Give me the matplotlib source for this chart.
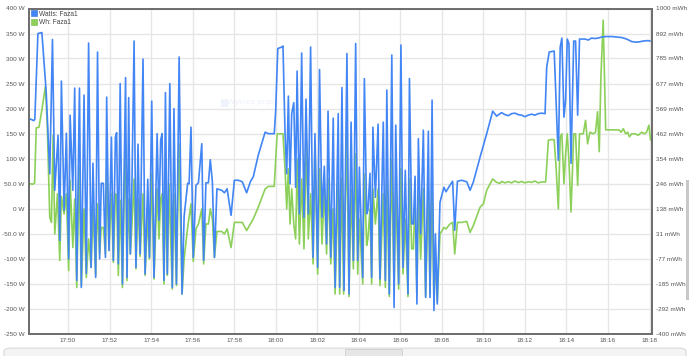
import matplotlib
matplotlib.use('Agg')
from matplotlib import pyplot as plt
from matplotlib.patches import Patch, FancyBboxPatch, Rectangle
from matplotlib.ticker import FuncFormatter

# time in minutes after 17:48
blue_t = [0.07, 0.25, 0.35, 0.40, 0.55, 0.74, 0.95, 1.12, 1.25, 1.36, 1.52, 1.60,
          1.68, 1.81, 1.92, 2.03, 2.10, 2.23, 2.32, 2.42, 2.55, 2.64, 2.77, 2.88,
          2.99, 3.11, 3.20, 3.33, 3.42, 3.52, 3.60, 3.70, 3.80, 3.86, 3.97, 4.09,
          4.18, 4.28, 4.34, 4.42, 4.51, 4.62, 4.77, 4.84, 4.92, 5.00, 5.08, 5.18,
          5.27, 5.37, 5.47, 5.61, 5.71, 5.84, 5.92, 6.03, 6.14, 6.29, 6.38, 6.46,
          6.53, 6.62, 6.69, 6.78, 6.90, 7.02, 7.10, 7.22, 7.35, 7.49, 7.59, 7.76,
          7.83, 7.92, 8.03, 8.16, 8.28, 8.44, 8.53, 8.64, 8.76, 8.85, 8.95, 9.05,
          9.17, 9.40, 9.53, 9.66, 9.85, 10.01, 10.20, 10.39, 10.60, 10.78, 10.92,
          11.16, 11.49, 11.65, 11.93, 12.00, 12.10, 12.29, 12.35, 12.45, 12.53,
          12.61, 12.69, 12.77, 12.87, 12.96, 13.03, 13.14, 13.25, 13.36, 13.46,
          13.57, 13.68, 13.80, 13.89, 14.02, 14.11, 14.23, 14.34, 14.45, 14.52,
          14.65, 14.77, 14.86, 15.01, 15.08, 15.19, 15.29, 15.43, 15.53, 15.63,
          15.74, 15.85, 15.95, 16.03, 16.19, 16.27, 16.38, 16.44, 16.54, 16.62,
          16.68, 16.80, 16.93, 17.02, 17.18, 17.28, 17.35, 17.47, 17.59, 17.70,
          17.78, 17.92, 18.03, 18.13, 18.24, 18.37, 18.44, 18.55, 18.63, 18.71,
          18.80, 18.87, 18.98, 19.11, 19.22, 19.35, 19.43, 19.53, 19.62, 19.69,
          19.78, 19.91, 20.10, 20.20, 20.39, 20.52, 20.62, 20.75, 20.95, 21.20,
          21.36, 21.52, 21.84, 22.16, 22.45, 22.64, 22.80, 22.88, 23.04, 23.20,
          23.36, 23.52, 23.68, 23.84, 24.00, 24.16, 24.32, 24.48, 24.64, 24.80,
          24.97, 25.05, 25.17, 25.41, 25.48, 25.61, 25.70, 25.78, 25.88, 25.96,
          26.04, 26.12, 26.22, 26.35, 26.44, 26.54, 26.63, 26.89, 27.05, 27.21,
          27.37, 27.53, 27.69, 27.90, 28.18, 28.40, 28.66, 28.90, 29.14, 29.30,
          29.46, 29.70, 29.94, 30.02]
watts = [181, 178, 176, 179, 350, 352, 232, 70, 338, 37, 147, -63,
         255, -3, 151, -100, 187, 37, 241, -143, 241, -157, 227, -129,
         331, -117, 91, -137, 313, -100, 51, 51, -97, 223, -83, 143,
         -103, 143, 152, -110, 250, -150, 262, -137, 222, -90, 57, 335,
         -117, 129, -90, 299, -130, 59, -97, 215, -137, 150, -23, 137,
         150, -143, 232, -130, 250, -157, 200, -150, 303, -170, -15, 51,
         50, 163, -97, 47, 52, 130, -103, 52, 52, 98, 54, -97,
         40, 37, 32, 40, -13, 57, 57, 54, 32, 54, 64,
         107, 153, 150, 150, 197, 320, 323, 325, 150, 70,
         225, 50, 190, 212, 43, 275, -10, 311, -17, 219,
         -10, 323, -97, 150, -117, 278, -17, 85, -70, 195,
         -97, 181, -157, 190, -157, 242, -163, 310, -170, 173,
         -103, 330, -103, 83, -137, 260, -10, -3, 71, -137,
         163, 23, 169, -140, 173, -143, 237, -170, 307, -197,
         167, -150, 327, -117, 77, -170, 260, -30, -30, 65,
         -190, 140, -50, 157, -177, 155, -177, 217, -203, -50,
         -190, 13, 43, 34, 47, 55, -43, 55, 57, 54,
         37, 54, 103, 150, 195, 185, 190, 192, 188, 186,
         190, 191, 188, 187, 184, 187, 189, 187, 190, 191,
         190, 283, 313, 315, 237, 97, 323, 341, 183, 217,
         339, 330, 91, 335, 335, 187, 339, 339, 337, 341,
         340, 341, 343, 344, 344, 343, 342, 339, 334, 333,
         333, 335, 336, 335]

green_t = [0.07, 0.30, 0.39, 0.47, 0.60, 0.75, 0.91, 1.00, 1.12, 1.20, 1.28, 1.36,
           1.49, 1.60, 1.68, 1.81, 1.92, 2.03, 2.10, 2.23, 2.32, 2.42, 2.53, 2.64,
           2.77, 2.88, 2.99, 3.11, 3.20, 3.33, 3.41, 3.52, 3.60, 3.70, 3.80, 3.86,
           3.97, 4.09, 4.18, 4.28, 4.34, 4.42, 4.52, 4.62, 4.76, 4.84, 4.89, 5.00,
           5.08, 5.18, 5.27, 5.37, 5.47, 5.61, 5.71, 5.84, 5.92, 6.03, 6.14, 6.29,
           6.38, 6.46, 6.53, 6.62, 6.69, 6.78, 6.86, 7.02, 7.10, 7.22, 7.34, 7.49,
           7.59, 7.75, 7.92, 8.03, 8.16, 8.28, 8.44, 8.53, 8.64, 8.76, 8.85, 8.95,
           9.05, 9.17, 9.40, 9.53, 9.66, 9.85, 10.01, 10.20, 10.39, 10.60, 10.78,
           10.92, 11.16, 11.49, 11.65, 11.93, 12.00, 12.07, 12.35, 12.45, 12.53,
           12.61, 12.69, 12.77, 12.87, 12.96, 13.04, 13.14, 13.25, 13.36, 13.48,
           13.57, 13.68, 13.80, 13.89, 14.02, 14.12, 14.23, 14.34, 14.45, 14.53,
           14.65, 14.76, 14.86, 15.00, 15.08, 15.18, 15.27, 15.42, 15.53, 15.63,
           15.74, 15.85, 15.95, 16.03, 16.19, 16.27, 16.38, 16.44, 16.54, 16.62,
           16.68, 16.80, 16.93, 17.02, 17.18, 17.28, 17.36, 17.47, 17.58, 17.70,
           17.78, 17.92, 18.02, 18.13, 18.24, 18.37, 18.45, 18.55, 18.63, 18.71,
           18.80, 18.87, 18.98, 19.11, 19.22, 19.35, 19.43, 19.53, 19.62, 19.69,
           19.78, 19.91, 20.10, 20.20, 20.39, 20.52, 20.62, 20.75, 20.95, 21.20,
           21.36, 21.52, 21.84, 22.00, 22.16, 22.45, 22.64, 22.80, 22.88, 23.04,
           23.20, 23.36, 23.52, 23.68, 23.84, 24.00, 24.16, 24.32, 24.48, 24.64,
           24.80, 25.00, 25.13, 25.29, 25.41, 25.50, 25.61, 25.70, 25.78, 25.88,
           25.96, 26.04, 26.12, 26.22, 26.35, 26.44, 26.54, 26.63, 26.81, 26.92,
           27.02, 27.13, 27.29, 27.40, 27.50, 27.58, 27.66, 27.77, 27.89, 28.18,
           28.53, 28.63, 28.74, 28.85, 28.95, 29.03, 29.14, 29.30, 29.46, 29.62,
           29.75, 29.86, 29.97, 30.05]
mwh = [248, 244, 250, 487, 489, 569, 666, 494, 102, 80, 455, 30,
       203, -84, 192, 116, 203, -127, 261, -28, 181, -200, 317, -192,
       138, -157, 9, -114, 145, -148, 160, -56, 58, 58, -56, 304,
       -41, 203, -92, 203, 196, -148, 175, -200, 461, -170, 181, -56,
       73, 267, -120, 181, -67, 203, -148, 116, -77, 289, -164, 224,
       9, 181, 203, -185, 224, -148, 246, -207, 203, -192, 418, -228,
       -77, 52, 160, -88, 52, 73, 138, -99, 73, 73, 138, 95,
       -71, 41, 41, 30, 52, -28, 80, 80, 80, 45, 73,
       95, 145, 224, 235, 235, 353, 461, 461, 310, 138,
       310, 73, 224, 73, 9, 353, -13, 267, -34, 440,
       9, 203, -99, 418, -142, 310, -13, 224, -56, 267,
       -99, 138, -228, 246, -228, 267, -228, 461, -239, 224,
       -120, 375, -142, 95, -185, 289, -19, 9, 138, -185,
       224, 73, 224, -192, 203, -200, 246, -239, 353, -207,
       224, -207, 310, -142, 95, -239, 267, -34, -34, 181,
       -228, 203, -77, 224, -239, 218, -228, 224, -271, -56,
       -260, 30, 58, 52, 73, 80, -56, 80, 80, 84,
       37, 67, 145, 160, 218, 267, 252, 248, 256, 250,
       255, 250, 258, 251, 256, 250, 255, 252, 258, 250,
       254, 254, 433, 437, 435, 319, 138, 448, 461, 246,
       375, 461, 347, 125, 461, 461, 239, 461, 461, 519,
       418, 468, 461, 468, 556, 384, 707, 950, 478, 478,
       478, 468, 483, 461, 468, 448, 461, 461, 455, 468,
       461, 468, 498, 435]

w_ticks = [-250, -200, -150, -100, -50, 0, 50, 100, 150, 200, 250, 300, 350, 400]
w_labels = ['-250 W', '-200 W', '-150 W', '-100 W', '-50.0 W', '0 W', '50.0 W',
            '100 W', '150 W', '200 W', '250 W', '300 W', '350 W', '400 W']
mwh_ticks = [-400, -292, -185, -77, 31, 138, 246, 354, 462, 569, 677, 785, 892, 1000]
time_ticks = [2, 4, 6, 8, 10, 12, 14, 16, 18, 20, 22, 24, 26, 28, 30]

blue = '#4285f4'
green = '#8cd05a'
tick_col = '#555555'

fig = plt.figure(figsize=(6.9, 3.56), dpi=100)
ax2 = fig.add_axes([29 / 690, 22 / 356, 623 / 690, 325.5 / 356])
ax = ax2.twinx()
ax.yaxis.tick_left()
ax2.yaxis.tick_right()

ax2.set_zorder(1)
ax.set_zorder(2)
ax.patch.set_visible(False)

ax2.plot(green_t, mwh, color=green, lw=1.2)
ax.plot(blue_t, watts, color=blue, lw=1.2)

ax.set_xlim(0.12, 30.12)
ax.set_ylim(-250, 400)
ax2.set_ylim(-400, 1000)
ax2.set_xticks(time_ticks)
ax2.xaxis.set_major_formatter(FuncFormatter(
    lambda v, p: '%02d:%02d' % (17 + (48 + int(v)) // 60, (48 + int(v)) % 60)))

ax.set_yticks(w_ticks)
ax.set_yticklabels(w_labels)
ax2.set_yticks(mwh_ticks)
ax2.set_yticklabels(['%d mWh' % v for v in mwh_ticks])

ax2.grid(True, color='#e6e6e6', lw=1.0)
ax2.set_axisbelow(True)

for a in (ax, ax2):
    a.tick_params(length=0, labelsize=4.6, colors=tick_col, pad=3)
    for s in a.spines.values():
        s.set_color('#6e6e6e')
        s.set_linewidth(1.3)
for lab in ax.get_yticklabels() + ax2.get_yticklabels() + ax2.get_xticklabels():
    lab.set_family('Liberation Sans')

# faint watermark in the plot area
ax2.text(0.305, 0.71, '\u25a0', transform=ax2.transAxes, color='#eef2fb',
         fontsize=7, ha='left', va='center', zorder=0)
ax2.text(0.318, 0.71, 'Wykres prądu', transform=ax2.transAxes, color='#eef2fb',
         fontsize=6, ha='left', va='center', family='Liberation Sans', zorder=0)

handles = [Patch(facecolor=blue, edgecolor='#2f6fd6', lw=0.4, label='Watts: Faza1'),
           Patch(facecolor=green, edgecolor='#74b844', lw=0.4, label='Wh: Faza1')]
leg = ax.legend(handles=handles, loc='upper left', frameon=False,
                prop={'family': 'Liberation Sans', 'size': 4.8},
                handlelength=0.9, handleheight=0.9, handletextpad=0.25,
                labelspacing=0.25, borderaxespad=0.2, borderpad=0.1)
for t in leg.get_texts():
    t.set_color('#444444')

# bottom toolbar strip and right scrollbar of the page
fig.patches.append(FancyBboxPatch((4 / 690, -0.02), 682 / 690, 15 / 356,
                                  boxstyle='round,pad=0,rounding_size=0.01',
                                  transform=fig.transFigure, facecolor='#f4f4f4',
                                  edgecolor='#d9d9d9', lw=0.8))
fig.patches.append(Rectangle((345 / 690, -0.02), 57 / 690, 14 / 356,
                             transform=fig.transFigure, facecolor='#e6e6e6',
                             edgecolor='#cfcfcf', lw=0.6))
fig.patches.append(Rectangle((686 / 690, 56 / 356), 3 / 690, 120 / 356,
                             transform=fig.transFigure, facecolor='#c8c8c8',
                             edgecolor='none'))

plt.savefig('out.png', dpi=100)
plt.close()
